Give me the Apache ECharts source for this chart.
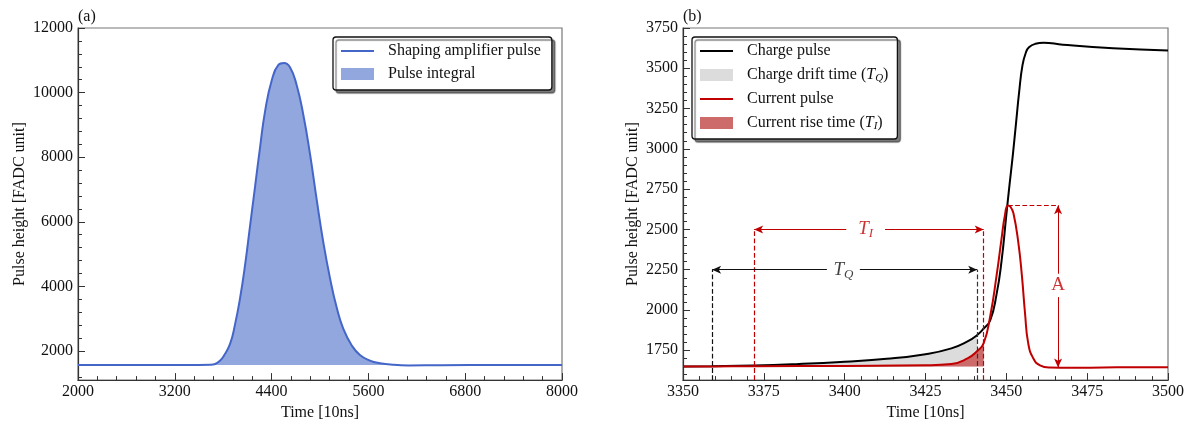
<!DOCTYPE html>
<html lang="en">
<head>
    <meta charset="UTF-8">
    <title>Pulse shapes</title>
    <script src="https://cdn.jsdelivr.net/npm/echarts@6/dist/echarts.min.js"></script>
    <style>
        html, body { margin: 0; padding: 0; background: #fff; }
        #main { width: 1191px; height: 426px; }
    </style>
</head>
<body>
<div id="main"></div>
<script type="text/javascript">
    // (a) shaping amplifier pulse: [time, height]
    var shapingPulse = [[2000,1570],[3500,1570],[3640,1575],[3700,1600],[3760,1700],[3803,1830],[3886,2230],
        [3948,2840],[4010,3650],[4071,4660],[4133,5875],[4195,7090],[4257,8305],[4319,9420],[4402,10380],
        [4484,10855],[4554,10916],[4628,10785],[4711,10227],[4793,9316],[4876,8100],[4959,6686],[5041,5368],
        [5124,4256],[5207,3345],[5289,2686],[5392,2180],[5495,1876],[5619,1705],[5743,1623],[5900,1575],
        [6100,1555],[6500,1560],[7200,1567],[8000,1570]];
    var integralRange = [3500, 6100];
    var shapingBase = 1570;

    // (b) charge and current pulses: [time, height]
    var chargePulse = [[3350,1650],[3359,1651],[3372,1655],[3385,1664],[3400,1679],[3413,1697],[3425,1726],
        [3433,1762],[3438,1805],[3441,1845],[3443,1885],[3445,1935],[3447,2100],[3448.5,2300],[3450,2590],
        [3451,2780],[3452,2960],[3453,3160],[3454,3360],[3455,3520],[3456,3595],[3457,3630],[3459,3652],
        [3461.5,3659],[3467.5,3646],[3483,3624],[3500,3610]];
    var currentPulse = [[3350,1650],[3359,1650],[3372,1651],[3400,1653],[3425,1657],[3433,1665],[3438,1700],
        [3441,1745],[3443,1795],[3445,1960],[3447,2216],[3448.5,2440],[3449.5,2580],[3450.5,2648],[3451.3,2640],
        [3452.2,2600],[3453.7,2420],[3454.8,2216],[3455.8,1975],[3456.8,1790],[3458.4,1698],[3460.4,1657],
        [3463.5,1643],[3470,1641],[3480,1643],[3490,1645],[3500,1645]];
    var pulseBase = 1650;
    var tqRange = [3359, 3441];   // charge drift time
    var tiRange = [3372, 3443];   // current rise time
    var tqLevel = 2250, tiLevel = 2500;
    var tqGap = [3394.5, 3404.7], tiGap = [3400.5, 3412.5];
    var ampX = 3466, ampTop = 2650, ampBottom = 1643, ampGap = [2080, 2225], peakX = 3450.5;

    // tick labels
    var xTicksA = [2000, 3200, 4400, 5600, 6800, 8000];
    var yTicksA = [2000, 4000, 6000, 8000, 10000, 12000];
    var xTicksB = [3350, 3375, 3400, 3425, 3450, 3475, 3500];
    var yTicksB = [1750, 2000, 2250, 2500, 2750, 3000, 3250, 3500, 3750];

    function minors(start, end, step) {
        var out = [];
        for (var v = start; v <= end + 1e-9; v += step) out.push(+v.toFixed(3));
        return out;
    }
    function inRange(data, r) {
        return data.filter(function (p) { return p[0] >= r[0] && p[0] <= r[1]; });
    }
    function plain(v) { return String(v); }

    var FONT = "'Liberation Serif', 'DejaVu Serif', serif";
    var RED = '#c00000';
    var BLUE = '#4466c8';
    var HIDE = { color: 'rgba(0,0,0,0)', borderColor: 'rgba(0,0,0,0)', borderWidth: 0 };

    var chart = echarts.init(document.getElementById('main'));

    function mainX(grid, min, max, ticks) {
        return {
            type: 'value', gridIndex: grid, min: min, max: max, position: 'bottom',
            name: 'Time [10ns]', nameLocation: 'middle', nameGap: 23,
            nameTextStyle: { fontFamily: FONT, fontSize: 16, color: '#111' },
            axisLine: { show: true, lineStyle: { color: '#333', width: 1.2 } },
            axisTick: { show: true, inside: true, length: 7, customValues: ticks, lineStyle: { color: '#333' } },
            axisLabel: { customValues: ticks, formatter: plain, margin: 4, fontFamily: FONT, fontSize: 16, color: '#111' },
            splitLine: { show: false }
        };
    }
    function minorX(grid, min, max, vals) {
        return {
            type: 'value', gridIndex: grid, min: min, max: max, position: 'bottom',
            axisLine: { show: false }, axisLabel: { show: false }, splitLine: { show: false },
            axisTick: { show: true, inside: true, length: 4, customValues: vals, lineStyle: { color: '#333' } }
        };
    }
    function mainY(grid, min, max, ticks, gap) {
        return {
            type: 'value', gridIndex: grid, min: min, max: max, position: 'left',
            name: 'Pulse height [FADC unit]', nameLocation: 'middle', nameGap: gap, nameRotate: 90,
            nameTextStyle: { fontFamily: FONT, fontSize: 16, color: '#111' },
            axisLine: { show: true, lineStyle: { color: '#333', width: 1.2 } },
            axisTick: { show: true, inside: true, length: 7, customValues: ticks, lineStyle: { color: '#333' } },
            axisLabel: { customValues: ticks, formatter: plain, margin: 5, fontFamily: FONT, fontSize: 16, color: '#111' },
            splitLine: { show: false }
        };
    }
    function minorY(grid, min, max, vals) {
        return {
            type: 'value', gridIndex: grid, min: min, max: max, position: 'left',
            axisLine: { show: false }, axisLabel: { show: false }, splitLine: { show: false },
            axisTick: { show: true, inside: true, length: 4, customValues: vals, lineStyle: { color: '#333' } }
        };
    }

    var legendRich = {
        n: { fontFamily: FONT, fontSize: 16, color: '#111' },
        i: { fontFamily: FONT, fontSize: 16, fontStyle: 'italic', color: '#111' },
        s: { fontFamily: FONT, fontSize: 11, fontStyle: 'italic', color: '#111', padding: [7, 0, 0, 0] }
    };
    function mathText(size, color, italic, pad) {
        return { fontFamily: FONT, fontSize: size, fontStyle: italic ? 'italic' : 'normal', color: color,
                 textBorderWidth: 0, padding: pad || 0 };
    }

    function dashed(x, top, color) {
        return [{ coord: [x, 1565], symbol: 'none', lineStyle: { type: 'dashed', color: color, width: 1.2 } },
                { coord: [x, top], symbol: 'none' }];
    }
    function arrow(x1, y1, x2, y2, color) {
        return [{ coord: [x1, y1], symbol: 'none', lineStyle: { type: 'solid', color: color, width: 1 } },
                { coord: [x2, y2], symbol: 'arrow' }];
    }

    var option = {
        animation: false,
        title: [
            { text: '(a)', left: 73, top: 4, textStyle: { fontFamily: FONT, fontSize: 16, fontWeight: 'normal', color: '#111' } },
            { text: '(b)', left: 678, top: 4, textStyle: { fontFamily: FONT, fontSize: 16, fontWeight: 'normal', color: '#111' } }
        ],
        grid: [
            { left: 78, right: 629, top: 28, bottom: 39, show: true, borderColor: '#777', borderWidth: 1.2 },
            { left: 683, right: 23, top: 28, bottom: 39, show: true, borderColor: '#777', borderWidth: 1.2 }
        ],
        xAxis: [
            mainX(0, 2000, 8000, xTicksA),
            minorX(0, 2000, 8000, minors(2000, 8000, 240)),
            mainX(1, 3350, 3500, xTicksB),
            minorX(1, 3350, 3500, minors(3350, 3500, 5))
        ],
        yAxis: [
            mainY(0, 1100, 12000, yTicksA, 50),
            minorY(0, 1100, 12000, minors(1200, 12000, 400)),
            mainY(1, 1565, 3750, yTicksB, 42),
            minorY(1, 1565, 3750, minors(1600, 3750, 50))
        ],
        legend: [
            {
                orient: 'vertical', left: 333, top: 37,
                data: [
                    { name: 'Shaping amplifier pulse', itemStyle: HIDE },
                    { name: 'Pulse integral', icon: 'rect', itemStyle: { color: '#92a7dd' } }
                ],
                itemWidth: 33, itemHeight: 12, itemGap: 7,
                padding: [6, 11, 8, 7],
                backgroundColor: '#fff', borderColor: '#111', borderWidth: 1.3, borderRadius: 3,
                shadowColor: 'rgba(0,0,0,0.5)', shadowBlur: 1, shadowOffsetX: 3, shadowOffsetY: 3,
                textStyle: { fontFamily: FONT, fontSize: 16, color: '#111', padding: [0, 0, 0, 9] }
            },
            {
                orient: 'vertical', left: 692, top: 37,
                data: [
                    { name: 'Charge pulse', itemStyle: HIDE },
                    { name: 'Charge drift time', icon: 'rect', itemStyle: { color: '#dcdcdc' } },
                    { name: 'Current pulse', itemStyle: HIDE },
                    { name: 'Current rise time', icon: 'rect', itemStyle: { color: '#cd6a6a' } }
                ],
                itemWidth: 33, itemHeight: 12, itemGap: 6,
                padding: [5, 9, 7, 7],
                backgroundColor: '#fff', borderColor: '#111', borderWidth: 1.3, borderRadius: 3,
                shadowColor: 'rgba(0,0,0,0.5)', shadowBlur: 1, shadowOffsetX: 3, shadowOffsetY: 3,
                formatter: function (name) {
                    if (name === 'Charge drift time') return '{n|Charge drift time (}{i|T}{s|Q}{n|)}';
                    if (name === 'Current rise time') return '{n|Current rise time (}{i|T}{s|I}{n|)}';
                    return '{n|' + name + '}';
                },
                textStyle: { fontFamily: FONT, fontSize: 16, color: '#111', padding: [0, 0, 0, 9], lineHeight: 18, rich: legendRich }
            }
        ],
        series: [
            {
                name: 'Pulse integral', type: 'line', xAxisIndex: 0, yAxisIndex: 0,
                data: inRange(shapingPulse, integralRange), smooth: 0.5,
                showSymbol: false, symbol: 'none', lineStyle: { width: 0 },
                itemStyle: { color: '#92a7dd' },
                areaStyle: { color: '#92a7dd', opacity: 1, origin: shapingBase }
            },
            {
                name: 'Shaping amplifier pulse', type: 'line', xAxisIndex: 0, yAxisIndex: 0,
                data: shapingPulse, smooth: 0.5,
                showSymbol: false, symbol: 'none', lineStyle: { width: 2, color: BLUE },
                itemStyle: { color: BLUE }
            },
            {
                name: 'Charge drift time', type: 'line', xAxisIndex: 2, yAxisIndex: 2,
                data: inRange(chargePulse, tqRange), smooth: 0.5,
                showSymbol: false, symbol: 'none', lineStyle: { width: 0 },
                itemStyle: { color: '#dcdcdc' },
                areaStyle: { color: '#dcdcdc', opacity: 1, origin: pulseBase }
            },
            {
                name: 'Current rise time', type: 'line', xAxisIndex: 2, yAxisIndex: 2,
                data: inRange(currentPulse, tiRange), smooth: 0.5,
                showSymbol: false, symbol: 'none', lineStyle: { width: 0 },
                itemStyle: { color: '#cd6a6a' },
                areaStyle: { color: '#cd6a6a', opacity: 1, origin: pulseBase }
            },
            {
                name: 'Charge pulse', type: 'line', xAxisIndex: 2, yAxisIndex: 2,
                data: chargePulse, smooth: 0.5,
                showSymbol: false, symbol: 'none', lineStyle: { width: 2, color: '#000' },
                itemStyle: { color: '#000' }
            },
            {
                name: 'Current pulse', type: 'line', xAxisIndex: 2, yAxisIndex: 2,
                data: currentPulse, smooth: 0.5,
                showSymbol: false, symbol: 'none', lineStyle: { width: 2, color: RED },
                itemStyle: { color: RED }
            },
            {
                name: 'annotations', type: 'scatter', xAxisIndex: 2, yAxisIndex: 2,
                symbolSize: 1, itemStyle: { color: 'rgba(0,0,0,0)' }, silent: true,
                data: [
                    { value: [(tqGap[0] + tqGap[1]) / 2, tqLevel], label: { formatter: '{tk|T}{sk|Q}' } },
                    { value: [(tiGap[0] + tiGap[1]) / 2, tiLevel], label: { formatter: '{tr|T}{sr|I}' } },
                    { value: [ampX, (ampGap[0] + ampGap[1]) / 2], label: { formatter: '{a|A}' } }
                ],
                label: {
                    show: true, position: 'inside', textBorderWidth: 0, textBorderColor: 'transparent',
                    rich: {
                        tk: mathText(19, '#111', true),
                        sk: mathText(13, '#111', true, [9, 0, 0, 0]),
                        tr: mathText(19, RED, true),
                        sr: mathText(13, RED, true, [9, 0, 0, 0]),
                        a: mathText(19, RED, false)
                    }
                },
                markLine: {
                    silent: true, symbolSize: [6, 9], precision: 3,
                    label: { show: false },
                    data: [
                        dashed(tqRange[0], tqLevel, '#111'),
                        dashed(tqRange[1], tqLevel, '#333'),
                        dashed(tiRange[0], tiLevel, RED),
                        dashed(tiRange[1], tiLevel, RED),
                        [{ coord: [peakX, ampTop], symbol: 'none', lineStyle: { type: 'dashed', color: RED, width: 1.2 } },
                         { coord: [ampX, ampTop], symbol: 'none' }],
                        arrow(tqGap[0], tqLevel, tqRange[0], tqLevel, '#111'),
                        arrow(tqGap[1], tqLevel, tqRange[1], tqLevel, '#111'),
                        arrow(tiGap[0], tiLevel, tiRange[0], tiLevel, RED),
                        arrow(tiGap[1], tiLevel, tiRange[1], tiLevel, RED),
                        arrow(ampX, ampGap[1], ampX, ampTop, RED),
                        arrow(ampX, ampGap[0], ampX, ampBottom, RED)
                    ]
                }
            }
        ]
    };
    chart.setOption(option);
</script>
</body>
</html>
